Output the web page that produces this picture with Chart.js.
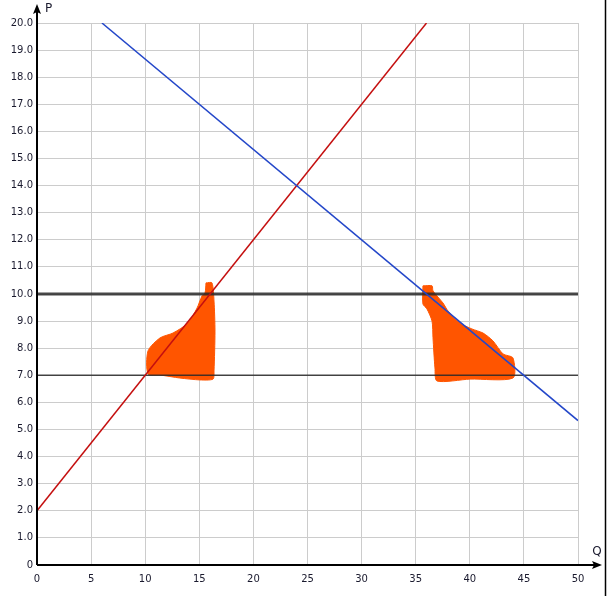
<!DOCTYPE html>
<html>
<head>
<meta charset="utf-8">
<script src="https://cdn.jsdelivr.net/npm/chart.js@4.4.1/dist/chart.umd.min.js"></script>
<style>
  html, body { margin: 0; padding: 0; background: #ffffff; }
  #wrap { width: 611px; height: 596px; }
</style>
</head>
<body>
<div id="wrap"><canvas id="c" width="611" height="596"></canvas></div>
<script>
// Demand (blue) and supply (red) lines
const demandQ = [6, 50];
const demandP = [20, 5.33];
const supplyQ = [0, 36];
const supplyP = [2, 20];
// Horizontal price levels
const priceLevels = [10, 7];
const priceWidths = [3, 1.5];
// Hand-drawn orange highlight shapes (data coords)
const blobLeftQ = [15.62, 16.17, 16.36, 16.45, 16.36, 16.27, 15.06, 13.2, 11.37, 10.26, 10.26, 11.37, 12.57, 13.96, 14.79, 15.25, 15.53, 15.62];
const blobLeftP = [10.41, 10.41, 9.74, 8.63, 7.16, 6.86, 6.83, 6.90, 7.01, 7.05, 7.90, 8.38, 8.56, 8.93, 9.48, 9.93, 10.04, 10.41];
const blobRightQ = [35.67, 36.51, 36.60, 37.52, 37.99, 39.09, 40.20, 41.22, 42.14, 43.07, 43.99, 43.99, 40.02, 36.97, 36.78, 36.60, 36.51, 36.04, 35.67, 35.67];
const blobRightP = [10.30, 10.30, 10.11, 9.67, 9.37, 8.93, 8.71, 8.56, 8.27, 7.79, 7.64, 6.90, 6.86, 6.79, 7.27, 8.38, 9.00, 9.45, 9.63, 10.30];
// Axis ticks
const qMin = 0, qMax = 50, qStep = 5;
const pMin = 0, pMax = 20, pStep = 1;

const pts = (xs, ys) => xs.map((x, i) => ({ x: x, y: ys[i] }));

const FONT = 'DejaVu Sans';
const TEXT = '#1a1a2e';

const axesPlugin = {
  id: 'axesArrows',
  afterDraw(chart) {
    const ctx = chart.ctx;
    const xs = chart.scales.x, ys = chart.scales.y;
    const x0 = xs.getPixelForValue(0), y0 = ys.getPixelForValue(0);
    const yTop = ys.getPixelForValue(pMax);
    const xRight = xs.getPixelForValue(qMax);
    ctx.save();
    ctx.strokeStyle = '#000';
    ctx.fillStyle = '#000';
    ctx.lineWidth = 2;
    // y axis
    ctx.beginPath();
    ctx.moveTo(x0, y0);
    ctx.lineTo(x0, yTop - 12);
    ctx.stroke();
    ctx.beginPath();
    ctx.moveTo(x0, yTop - 19);
    ctx.lineTo(x0 - 4, yTop - 9);
    ctx.lineTo(x0, yTop - 11);
    ctx.lineTo(x0 + 4, yTop - 9);
    ctx.closePath();
    ctx.fill();
    // x axis
    ctx.beginPath();
    ctx.moveTo(x0, y0);
    ctx.lineTo(xRight + 16, y0);
    ctx.stroke();
    ctx.beginPath();
    ctx.moveTo(xRight + 24, y0);
    ctx.lineTo(xRight + 14, y0 - 4);
    ctx.lineTo(xRight + 16, y0);
    ctx.lineTo(xRight + 14, y0 + 4);
    ctx.closePath();
    ctx.fill();
    // labels
    ctx.fillStyle = TEXT;
    ctx.font = '12px ' + FONT;
    ctx.textBaseline = 'middle';
    ctx.textAlign = 'left';
    ctx.fillText('P', x0 + 8, yTop - 14);
    ctx.textAlign = 'center';
    ctx.fillText('Q', xRight + 19, y0 - 13);
    // right border
    ctx.lineWidth = 1.5;
    ctx.beginPath();
    ctx.moveTo(605.5, 0);
    ctx.lineTo(605.5, chart.height);
    ctx.stroke();
    ctx.restore();
  }
};

const datasets = [
  { label: 'Demand', data: pts(demandQ, demandP), borderColor: '#2447c9', borderWidth: 1.5 },
  { label: 'Supply', data: pts(supplyQ, supplyP), borderColor: '#c40f0f', borderWidth: 1.5 },
  ...priceLevels.map((p, i) => ({
    label: 'P=' + p,
    data: pts([qMin, qMax], [p, p]),
    borderColor: 'rgba(40,40,40,0.85)',
    borderWidth: priceWidths[i]
  })),
  { label: 'blobL', data: pts(blobLeftQ, blobLeftP), borderColor: '#ff5500', backgroundColor: '#ff5500', borderWidth: 1, fill: 'shape', tension: 0.25 },
  { label: 'blobR', data: pts(blobRightQ, blobRightP), borderColor: '#ff5500', backgroundColor: '#ff5500', borderWidth: 1, fill: 'shape', tension: 0.25 }
].map(d => Object.assign({ showLine: true, pointRadius: 0, pointHoverRadius: 0, fill: false, tension: 0 }, d));

new Chart(document.getElementById('c'), {
  type: 'scatter',
  data: { datasets },
  options: {
    responsive: false,
    animation: false,
    events: [],
    layout: { padding: { top: 23, right: 33, left: 0, bottom: 0 } },
    plugins: { legend: { display: false }, tooltip: { enabled: false } },
    scales: {
      x: {
        type: 'linear', min: qMin, max: qMax,
        border: { display: false },
        grid: { color: '#cccccc', lineWidth: 1, drawTicks: false },
        ticks: { stepSize: qStep, color: TEXT, font: { family: FONT, size: 10 }, padding: 8, maxRotation: 0 },
        afterFit(s) { s.height = 31; }
      },
      y: {
        type: 'linear', min: pMin, max: pMax,
        border: { display: false },
        grid: { color: '#cccccc', lineWidth: 1, drawTicks: false },
        ticks: { stepSize: pStep, color: TEXT, font: { family: FONT, size: 10 }, padding: 4,
          callback: v => v === 0 ? '0' : v.toFixed(1) },
        afterFit(s) { s.width = 37; }
      }
    }
  },
  plugins: [axesPlugin]
});
</script>
</body>
</html>
